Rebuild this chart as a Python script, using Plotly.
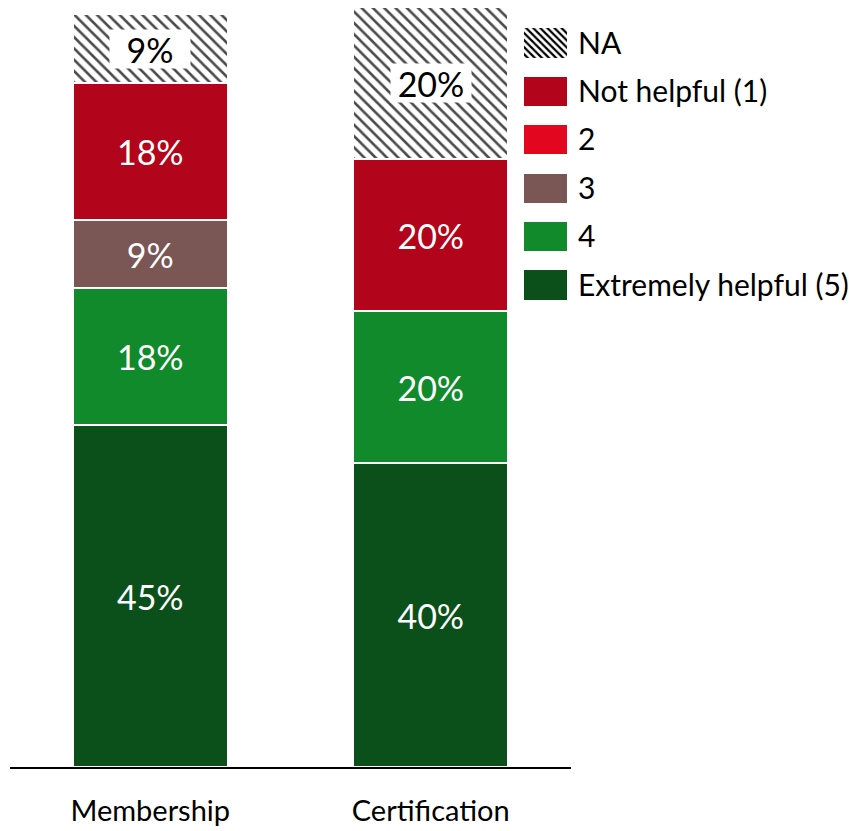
import plotly.graph_objects as go

# Survey results: how helpful each programme was
categories = ["Membership", "Certification"]
levels = ["Extremely helpful (5)", "4", "3", "2", "Not helpful (1)", "NA"]
values = {
    "Extremely helpful (5)": [45, 40],
    "4": [18, 20],
    "3": [9, 0],
    "2": [0, 0],
    "Not helpful (1)": [18, 20],
    "NA": [9, 20],
}
colors = {
    "Extremely helpful (5)": "#0B501B",
    "4": "#118A2C",
    "3": "#7A5654",
    "2": "#E2061E",
    "Not helpful (1)": "#B2041A",
    "NA": "#FFFFFF",
}

FONT = "Lato"
W, H = 849, 831
ML, MR, MT, MB = 10, 0, 7, 64
PW = W - ML - MR
PH = H - MT - MB


def px_x(p):
    return (p - ML) / PW


def px_y(p):
    return (H - MB - p) / PH


fig = go.Figure()

# Stacked bars
for lvl in levels:
    vals = values[lvl]
    is_na = lvl == "NA"
    fig.add_trace(go.Bar(
        x=categories,
        y=vals,
        name=lvl,
        marker=dict(
            color=colors[lvl],
            line=dict(color="white", width=1.5),
            pattern=dict(shape="\\", size=8, solidity=0.32,
                         fgcolor="#4A4A4A", bgcolor="white", fillmode="replace") if is_na else None,
        ),
        text=None if is_na else [f"{v}%" if v else "" for v in vals],
        textposition="inside",
        insidetextanchor="middle",
        textangle=0,
        textfont=dict(family=FONT, size=34, color="white"),
        showlegend=False,
        xaxis="x", yaxis="y",
        hoverinfo="skip",
    ))

# NA labels sit in a white box on top of the hatching
for i, cat in enumerate(categories):
    base = sum(values[l][i] for l in levels if l != "NA")
    v = values["NA"][i]
    fig.add_annotation(
        x=cat, y=base + v / 2, xref="x", yref="y",
        text=f"{v}%", showarrow=False,
        font=dict(family=FONT, size=34, color="black"),
        bgcolor="white", borderpad=0, width=80, height=38,
    )

# Key drawn as a small horizontal bar chart with right-side labels
for lvl in levels:
    is_na = lvl == "NA"
    fig.add_trace(go.Bar(
        x=[1], y=[lvl], orientation="h", width=0.6,
        marker=dict(
            color=colors[lvl],
            line=dict(width=0),
            pattern=dict(shape="\\", size=5, solidity=0.45,
                         fgcolor="black", bgcolor="white", fillmode="replace") if is_na else None,
        ),
        showlegend=False, hoverinfo="skip",
        xaxis="x2", yaxis="y2",
    ))

fig.update_layout(
    width=W, height=H,
    margin=dict(l=ML, r=MR, t=MT, b=MB, autoexpand=False),
    paper_bgcolor="white", plot_bgcolor="white",
    barmode="stack", bargap=0.45,
    xaxis=dict(
        domain=[0, px_x(571)],
        showline=True, linecolor="black", linewidth=2,
        ticks="", showgrid=False, automargin=False,
        tickfont=dict(family=FONT, size=29, color="black"),
        ticklabelstandoff=17,
    ),
    yaxis=dict(range=[0, 100], visible=False, showgrid=False, automargin=False),
    xaxis2=dict(domain=[px_x(524), px_x(567)], range=[0, 1], visible=False,
                anchor="y2", automargin=False),
    yaxis2=dict(
        domain=[px_y(309.2), px_y(18.8)], anchor="x2", side="right",
        type="category", categoryorder="array",
        categoryarray=levels,
        range=[-0.5, 5.5],
        showline=False, showgrid=False, ticks="", zeroline=False,
        tickfont=dict(family=FONT, size=30, color="black"),
        ticklabelstandoff=10, automargin=False,
    ),
    showlegend=False,
)

fig.write_html("out.html")
